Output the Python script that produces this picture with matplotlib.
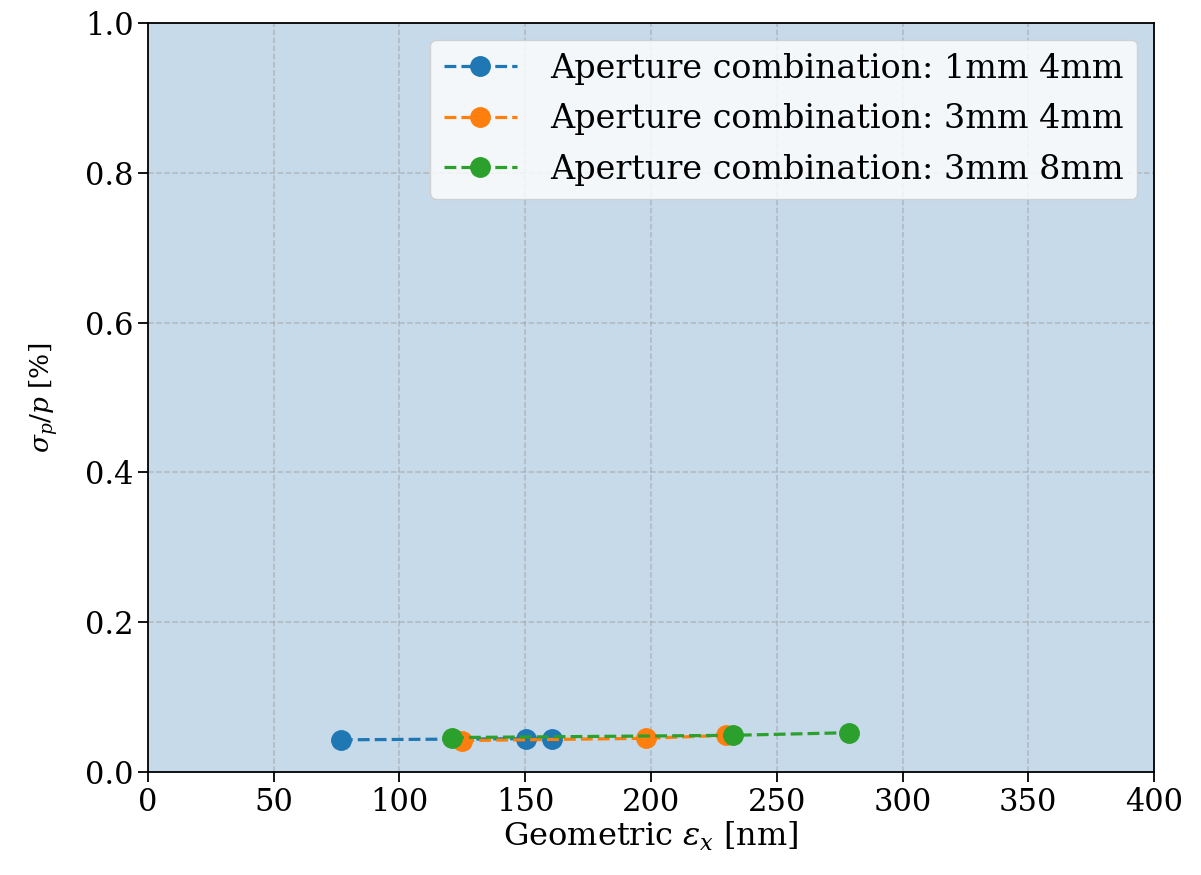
import matplotlib
matplotlib.use("Agg")
import matplotlib.pyplot as plt

plt.rcParams['font.family'] = 'DejaVu Serif'
plt.rcParams['mathtext.fontset'] = 'dejavuserif'

# emittance [nm] vs momentum spread [%]
blue_x = [76.7, 150.4, 160.8]
blue_y = [0.043, 0.0445, 0.0445]
orange_x = [125.0, 197.9, 229.9]
orange_y = [0.042, 0.045, 0.049]
green_x = [120.9, 232.6, 278.7]
green_y = [0.046, 0.049, 0.0525]
labels = ["Aperture combination: 1mm 4mm",
          "Aperture combination: 3mm 4mm",
          "Aperture combination: 3mm 8mm"]

fig = plt.figure(figsize=(12.01, 8.75), dpi=100)
ax = fig.add_axes([0.1232, 0.1177, 0.8377, 0.856])
ax.set_facecolor((0.776, 0.855, 0.918))

for xs, ys, lab in zip([blue_x, orange_x, green_x], [blue_y, orange_y, green_y], labels):
    ax.plot(xs, ys, 'o--', markersize=14, linewidth=2.3, label=lab)

ax.set_xlim(0, 400)
ax.set_ylim(0, 1.0)
ax.grid(True, linestyle='--', color='#a0a0a0', alpha=0.6, linewidth=1.1)
ax.tick_params(labelsize=22, length=7, width=1.3)
for s in ax.spines.values():
    s.set_linewidth(1.3)
ax.set_xlabel(r"Geometric $\epsilon_x$ [nm]", fontsize=23, labelpad=2)
ax.set_ylabel(r"$\sigma_p/p$ [%]", fontsize=19, labelpad=18)
ax.legend(fontsize=24, loc='upper right', handlelength=2.2, handletextpad=1.0,
          labelspacing=0.55)

fig.savefig("out.png", dpi=100)
